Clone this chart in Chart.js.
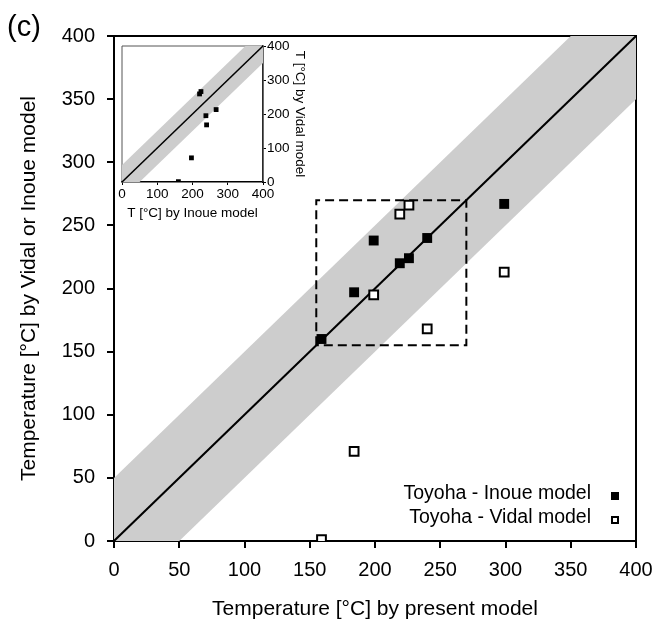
<!DOCTYPE html>
<html>
<head>
<meta charset="utf-8">
<script src="https://cdn.jsdelivr.net/npm/chart.js@4/dist/chart.umd.min.js"></script>
<style>
  html, body { margin: 0; padding: 0; background: #fff; }
  #wrap { position: relative; width: 655px; height: 624px; }
  #main { position: absolute; left: 0; top: 0; }
  #inset { position: absolute; left: 110px; top: 38px; }
</style>
</head>
<body>
<div id="wrap">
  <canvas id="main" width="655" height="624"></canvas>
  <canvas id="inset" width="200" height="186"></canvas>
</div>
<script>
// ---- data ----
const presentT = [159, 184, 199, 219, 226, 240, 299];   // x: temperature by present model
const inoueT   = [160, 197, 238, 220, 224, 240, 267];   // y: Inoue model
const vidalT   = [1, 71, 195, 259, 266, 168, 213];      // y: Vidal model
const seriesLabels = ['Toyoha - Inoue model', 'Toyoha - Vidal model'];
const mainTicks = [0, 50, 100, 150, 200, 250, 300, 350, 400];
const insetTicks = [0, 100, 200, 300, 400];
const axisRange = [0, 400];
const bandHalfWidth = 50;        // grey band = 1:1 line +/- 50 °C
const zoomBox = [155, 270];      // dashed box limits (both axes)
const panelLabel = '(c)';
const xTitle = 'Temperature [°C] by present model';
const yTitle = 'Temperature [°C] by Vidal or Inoue model';
const insetXTitle = 'T [°C] by Inoue model';
const insetYTitle = 'T [°C] by Vidal model';

const FONT = "'Liberation Sans', Arial, Helvetica, sans-serif";
const BAND = '#cdcdcd';

function pts(xs, ys) { return xs.map((x, i) => ({x: x, y: ys[i]})); }
const lo = axisRange[0], hi = axisRange[1];
const bandLower = [{x: lo, y: lo - bandHalfWidth}, {x: hi, y: hi - bandHalfWidth}];
const bandUpper = [{x: lo, y: lo + bandHalfWidth}, {x: hi, y: hi + bandHalfWidth}];
const oneToOne  = [{x: lo, y: lo}, {x: hi, y: hi}];
const boxPath = [
  {x: zoomBox[0], y: zoomBox[0]}, {x: zoomBox[0], y: zoomBox[1]},
  {x: zoomBox[1], y: zoomBox[1]}, {x: zoomBox[1], y: zoomBox[0]},
  {x: zoomBox[0], y: zoomBox[0]}
];

const framePlugin = {
  id: 'frame',
  beforeDatasetsDraw(chart, args, opts) {
    const a = chart.chartArea, ctx = chart.ctx;
    ctx.save();
    ctx.strokeStyle = opts.color || '#000';
    ctx.lineWidth = opts.width || 2;
    ctx.beginPath();
    ctx.moveTo(a.left, a.top); ctx.lineTo(a.right, a.top); ctx.lineTo(a.right, a.bottom);
    if (opts.left) { ctx.moveTo(a.left, a.top); ctx.lineTo(a.left, a.bottom); }
    ctx.stroke();
    ctx.restore();
  }
};

const extrasPlugin = {
  id: 'extras',
  afterDraw(chart) {
    const ctx = chart.ctx;
    ctx.save();
    // panel label
    ctx.fillStyle = '#000';
    ctx.font = '29px ' + FONT;
    ctx.textBaseline = 'alphabetic';
    ctx.textAlign = 'left';
    ctx.fillText(panelLabel, 7, 36);
    // legend (text right-aligned, marker on the right)
    ctx.font = '19.5px ' + FONT;
    ctx.textAlign = 'right';
    ctx.textBaseline = 'middle';
    const rows = [494, 518];
    [0, 1].forEach(i => {
      const ds = chart.data.datasets[i];
      const y = rows[i];
      ctx.fillStyle = '#000';
      ctx.fillText(ds.label, 591, y);
      const mx = 615, my = y + 2, s = 8;
      if (i === 0) {
        ctx.fillRect(mx - s / 2, my - s / 2, s, s);
      } else {
        ctx.fillStyle = '#fff';
        ctx.fillRect(mx - s / 2, my - s / 2, s, s);
        ctx.strokeStyle = '#000';
        ctx.lineWidth = 2;
        ctx.strokeRect(mx - s / 2 + 1, my - s / 2 + 1, s - 2, s - 2);
      }
    });
    ctx.restore();
  }
};

new Chart(document.getElementById('main'), {
  type: 'scatter',
  data: {
    datasets: [
      { label: seriesLabels[0], data: pts(presentT, inoueT), pointStyle: 'rect',
        pointRadius: 7, pointBackgroundColor: '#000', pointBorderColor: '#000', pointBorderWidth: 0 },
      { label: seriesLabels[1], data: pts(presentT, vidalT), pointStyle: 'rect',
        pointRadius: 6.2, pointBackgroundColor: '#fff', pointBorderColor: '#000', pointBorderWidth: 2 },
      { label: '1:1', data: oneToOne, showLine: true, borderColor: '#000', borderWidth: 2,
        pointRadius: 0, fill: false },
      { label: 'box', data: boxPath, showLine: true, borderColor: '#000', borderWidth: 2,
        borderDash: [9, 5], pointRadius: 0, fill: false, tension: 0 },
      { label: 'bandLow', data: bandLower, showLine: true, borderWidth: 0, borderColor: 'rgba(0,0,0,0)',
        pointRadius: 0, fill: false },
      { label: 'bandHigh', data: bandUpper, showLine: true, borderWidth: 0, borderColor: 'rgba(0,0,0,0)',
        pointRadius: 0, fill: 4, backgroundColor: BAND }
    ]
  },
  options: {
    responsive: false,
    animation: false,
    events: [],
    layout: { padding: { left: 0, right: 19, top: 36, bottom: 0 } },
    plugins: { legend: { display: false }, tooltip: { enabled: false }, frame: { width: 2 } },
    scales: {
      x: {
        type: 'linear', min: axisRange[0], max: axisRange[1],
        afterBuildTicks: s => { s.ticks = mainTicks.map(v => ({value: v})); },
        afterFit: s => { s.height = 83; s.paddingLeft = 0; s.paddingRight = 0; },
        grid: { drawOnChartArea: false, drawTicks: true, tickLength: 7, color: '#000', lineWidth: 2 },
        border: { display: true, color: '#000', width: 2 },
        ticks: { color: '#000', font: { family: FONT, size: 20 }, padding: 10, maxRotation: 0 },
        title: { display: true, text: xTitle, color: '#000', font: { family: FONT, size: 21 },
                 padding: { top: 0, bottom: 2 } }
      },
      y: {
        type: 'linear', min: axisRange[0], max: axisRange[1],
        afterBuildTicks: s => { s.ticks = mainTicks.map(v => ({value: v})); },
        afterFit: s => { s.width = 114; s.paddingTop = 0; s.paddingBottom = 0; },
        grid: { drawOnChartArea: false, drawTicks: true, tickLength: 7, color: '#000', lineWidth: 2 },
        border: { display: true, color: '#000', width: 2 },
        ticks: { color: '#000', font: { family: FONT, size: 20 }, padding: 12 },
        title: { display: true, text: yTitle, color: '#000', font: { family: FONT, size: 21 },
                 padding: { top: 17, bottom: 0 } }
      }
    }
  },
  plugins: [framePlugin, extrasPlugin]
});

// ---- inset: Inoue (x) vs Vidal (y) ----
new Chart(document.getElementById('inset'), {
  type: 'scatter',
  data: {
    datasets: [
      { label: 'Inoue vs Vidal', data: pts(inoueT, vidalT), pointStyle: 'rect',
        pointRadius: 3.4, pointBackgroundColor: '#000', pointBorderWidth: 0 },
      { label: '1:1', data: oneToOne, showLine: true, borderColor: '#000', borderWidth: 1.5,
        pointRadius: 0, fill: false },
      { label: 'bandLow', data: bandLower, showLine: true, borderWidth: 0, borderColor: 'rgba(0,0,0,0)',
        pointRadius: 0, fill: false },
      { label: 'bandHigh', data: bandUpper, showLine: true, borderWidth: 0, borderColor: 'rgba(0,0,0,0)',
        pointRadius: 0, fill: 2, backgroundColor: BAND }
    ]
  },
  options: {
    responsive: false,
    animation: false,
    events: [],
    layout: { padding: { left: 12, right: 0, top: 8, bottom: 0 } },
    plugins: { legend: { display: false }, tooltip: { enabled: false },
               frame: { width: 1, color: '#555', left: true } },
    scales: {
      x: {
        type: 'linear', min: axisRange[0], max: axisRange[1],
        afterBuildTicks: s => { s.ticks = insetTicks.map(v => ({value: v})); },
        afterFit: s => { s.height = 42; s.paddingLeft = 0; s.paddingRight = 0; },
        grid: { drawOnChartArea: false, drawTicks: true, tickLength: 3, color: '#000', lineWidth: 1 },
        border: { display: true, color: '#000', width: 1.5 },
        ticks: { color: '#000', font: { family: FONT, size: 13.5 }, padding: 1, maxRotation: 0 },
        title: { display: true, text: insetXTitle, color: '#000', font: { family: FONT, size: 13.5 },
                 padding: { top: 0, bottom: 3 } }
      },
      y: {
        type: 'linear', position: 'right', min: axisRange[0], max: axisRange[1],
        afterBuildTicks: s => { s.ticks = insetTicks.map(v => ({value: v})); },
        afterFit: s => { s.width = 47; s.paddingTop = 0; s.paddingBottom = 0; },
        grid: { drawOnChartArea: false, drawTicks: true, tickLength: 3, color: '#000', lineWidth: 1 },
        border: { display: true, color: '#000', width: 1.5 },
        ticks: { color: '#000', font: { family: FONT, size: 13.5 }, padding: 1 },
        title: { display: true, text: insetYTitle, color: '#000', font: { family: FONT, size: 13.5 },
                 padding: { top: 2, bottom: 0 } }
      }
    }
  },
  plugins: [framePlugin]
});
</script>
</body>
</html>
